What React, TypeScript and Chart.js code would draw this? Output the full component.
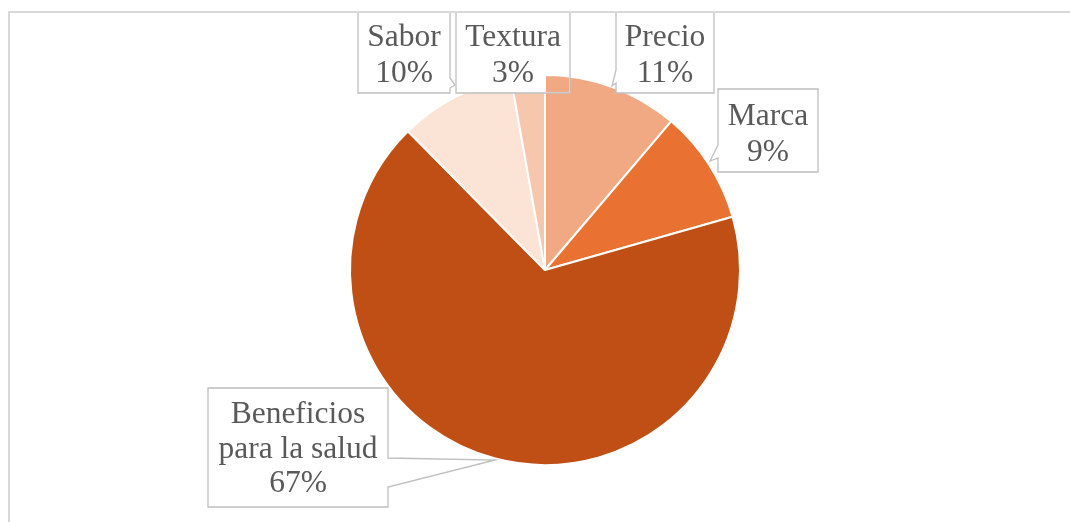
import React, { useEffect, useRef } from 'react';
import { Chart, registerables } from 'chart.js';

Chart.register(...registerables);

// ---- data ----
const categories = ['Precio', 'Marca', 'Beneficios para la salud', 'Sabor', 'Textura'];
const values = [11.2, 9.4, 67.0, 9.6, 2.8];
const total = values.reduce((s, v) => s + v, 0);
const percentLabels = values.map((v) => `${Math.round((v / total) * 100)}%`);
const sliceColors = ['#F1A983', '#E97132', '#C04F15', '#FBE3D6', '#F6C6AD'];

// ---- callout layout (pixel positions of label boxes) ----
type Tail = { side: 'left' | 'right'; a: number; b: number; tip: [number, number] } | null;
const calloutLayout: { box: [number, number, number, number]; tail: Tail; baseline: number; lh: number }[] = [
  { box: [616, 12, 714, 93], tail: { side: 'left', a: 70, b: 83, tip: [612, 86] }, baseline: 46, lh: 36 },
  { box: [718, 89, 818, 172], tail: { side: 'left', a: 145, b: 158, tip: [710, 161] }, baseline: 125, lh: 36 },
  { box: [208, 388, 388, 507], tail: { side: 'right', a: 458, b: 487, tip: [495, 460] }, baseline: 423, lh: 34.5 },
  { box: [358, 12, 450, 93], tail: { side: 'right', a: 78, b: 88, tip: [455, 85] }, baseline: 46, lh: 36 },
  { box: [456, 12, 570, 93], tail: null, baseline: 46, lh: 36 },
];

const FONT = '31.5px "Liberation Serif", "Times New Roman", serif';

function wrap(ctx: CanvasRenderingContext2D, text: string, maxW: number): string[] {
  const words = text.split(' ');
  const lines: string[] = [];
  let cur = '';
  for (const w of words) {
    const test = cur ? cur + ' ' + w : w;
    if (cur && ctx.measureText(test).width > maxW) {
      lines.push(cur);
      cur = w;
    } else cur = test;
  }
  if (cur) lines.push(cur);
  return lines;
}

const calloutPlugin = {
  id: 'callouts',
  afterDatasetsDraw(chart: any) {
    const ctx: CanvasRenderingContext2D = chart.ctx;
    const meta = chart.getDatasetMeta(0);
    ctx.save();
    ctx.font = FONT;
    // boxes
    calloutLayout.forEach((L) => {
      const [x0, y0, x1, y1] = L.box;
      const t = L.tail;
      ctx.beginPath();
      ctx.moveTo(x0, y0);
      ctx.lineTo(x1, y0);
      if (t && t.side === 'right') {
        ctx.lineTo(x1, t.a);
        ctx.lineTo(t.tip[0], t.tip[1]);
        ctx.lineTo(x1, t.b);
      }
      ctx.lineTo(x1, y1);
      ctx.lineTo(x0, y1);
      if (t && t.side === 'left') {
        ctx.lineTo(x0, t.b);
        ctx.lineTo(t.tip[0], t.tip[1]);
        ctx.lineTo(x0, t.a);
      }
      ctx.closePath();
      ctx.fillStyle = '#FFFFFF';
      ctx.fill();
      ctx.strokeStyle = '#BFBFBF';
      ctx.lineWidth = 1.3;
      ctx.stroke();
    });
    // Precio slice shows over the Textura box
    const tb = calloutLayout[4].box;
    ctx.save();
    ctx.beginPath();
    ctx.rect(tb[0] + 1, tb[1], tb[2] - tb[0] - 2, tb[3] - tb[1] - 1);
    ctx.clip();
    meta.data[0].draw(ctx);
    ctx.restore();
    // texts
    ctx.fillStyle = '#595959';
    ctx.textAlign = 'center';
    ctx.textBaseline = 'alphabetic';
    calloutLayout.forEach((L, i) => {
      const [x0, , x1] = L.box;
      const lines = [...wrap(ctx, categories[i], 170), percentLabels[i]];
      const cx = (x0 + x1) / 2;
      lines.forEach((ln, k) => ctx.fillText(ln, cx, L.baseline + k * L.lh));
    });
    // outer chart border (clipped at right/bottom)
    ctx.fillStyle = '#D9D9D9';
    ctx.fillRect(8, 11, 1062, 2);
    ctx.fillRect(8, 11, 2, 511);
    ctx.restore();
  },
};

export default function App() {
  const ref = useRef<HTMLCanvasElement>(null);
  useEffect(() => {
    if (!ref.current) return;
    const chart = new Chart(ref.current, {
      type: 'pie',
      data: {
        labels: categories,
        datasets: [
          {
            data: values,
            backgroundColor: sliceColors,
            borderColor: '#FFFFFF',
            borderWidth: 2,
          },
        ],
      },
      options: {
        responsive: false,
        animation: false,
        layout: { padding: { left: 349, top: 74, right: 329, bottom: 56 } },
        plugins: {
          legend: { display: false },
          tooltip: { enabled: false },
        },
      },
      plugins: [calloutPlugin],
    });
    return () => chart.destroy();
  }, []);
  return (
    <div style={{ position: 'fixed', left: 0, top: 0, width: 1070, height: 522, background: '#fff' }}>
      <canvas ref={ref} width={1070} height={522} style={{ display: 'block' }} />
    </div>
  );
}
